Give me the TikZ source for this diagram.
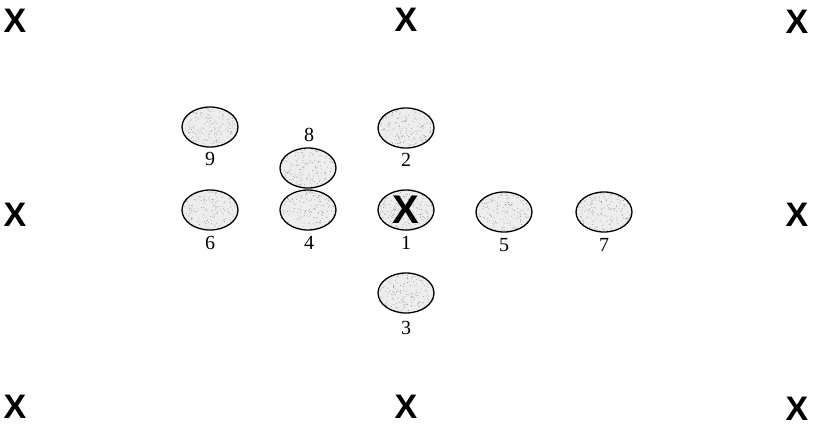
\documentclass[tikz,border=0pt]{standalone}
\usepackage{fontspec}
\usetikzlibrary{shapes.geometric}
\setmainfont{Liberation Serif}
\newfontfamily\markfont{Liberation Sans}
% speckled texture inside a disc, then its outline on top
\newcommand\speckle[1]{%
  \begin{scope}
    \clip (#1.center) ellipse (28pt and 20pt);
    \foreach \k in {1,...,200} {
      \fill[black!42] (#1.center) ++(rand*28pt, rand*20pt) circle (0.45pt);
    }
  \end{scope}
  \draw[line width=1.3pt] (#1.center) ellipse (28pt and 20pt);
}
\begin{document}
\begin{tikzpicture}[x=1pt,y=-1pt,
  marker/.style={font=\markfont\bfseries\fontsize{34}{34}\selectfont, inner sep=0pt},
  bigmarker/.style={font=\markfont\bfseries\fontsize{40}{40}\selectfont, inner sep=0pt},
  disc/.style={fill=black!7, shape=ellipse,
    minimum width=56pt, minimum height=40pt, inner sep=0pt},
  num/.style={font=\fontsize{20}{20}\selectfont, inner sep=0pt}]
  \pgfmathsetseed{4711}
  \useasboundingbox (0,0) rectangle (814,428);
  % border markers
  \node[marker] (xtl) at (15,21) {X};
  \node[marker] (xtm) at (406,20) {X};
  \node[marker] (xtr) at (797,22) {X};
  \node[marker] (xml) at (15,215) {X};
  \node[marker] (xmr) at (797,215) {X};
  \node[marker] (xbl) at (15,407) {X};
  \node[marker] (xbm) at (406,407) {X};
  \node[marker] (xbr) at (797,409) {X};
  % numbered discs
  \node[disc] (d9) at (210,127) {};
  \node[disc] (d6) at (210,210) {};
  \node[disc] (d8) at (308,168) {};
  \node[disc] (d4) at (308,210) {};
  \node[disc] (d2) at (406,128) {};
  \node[disc] (d1) at (406,210) {};
  \node[disc] (d3) at (406,293) {};
  \node[disc] (d5) at (504,212) {};
  \node[disc] (d7) at (604,212) {};
  \foreach \d in {d9,d6,d8,d4,d2,d1,d3,d5,d7} { \speckle{\d} }
  % marker inside disc 1
  \node[bigmarker] (x1) at (d1.center) {X};
  % disc numbers
  \node[num] (n9) at (210,159) {9};
  \node[num] (n6) at (210,243) {6};
  \node[num] (n8) at (309,135) {8};
  \node[num] (n4) at (309,243) {4};
  \node[num] (n2) at (406,160) {2};
  \node[num] (n1) at (406,243) {1};
  \node[num] (n3) at (406,328) {3};
  \node[num] (n5) at (504,245) {5};
  \node[num] (n7) at (604,245) {7};
\end{tikzpicture}
\end{document}
